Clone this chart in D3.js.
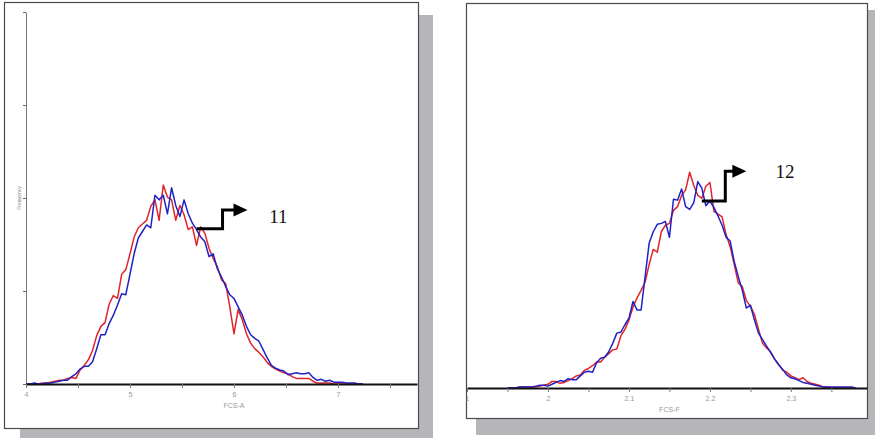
<!DOCTYPE html>
<html>
<head>
<meta charset="utf-8">
<script src="https://cdn.jsdelivr.net/npm/d3@7"></script>
<style>
  body { margin: 0; background: #fff; }
  svg { display: block; }
</style>
</head>
<body>
<div id="chart"></div>
<script>
// left histogram: FCS-A, bins every 0.04 from 4.00
const leftBins = d3.range(82).map(i => +(4 + i * 0.04).toFixed(2));
const leftRed = [0,0,0,0,1,1,2,3,4,4, 6,7,6,15,20,26,36,52,62,66,
  86,95,92,118,123,140,158,168,172,176, 191,198,176,214,201,198,176,192,182,166,
  169,149,169,162,146,135,126,112,108,83, 54,80,69,54,44,38,34,29,23,19,
  16,14,12,11,8,6,6,6,6,3, 1,1,1,1,0,0,0,0,0,0,0,0];
const leftBlue = [0,0,1,0,0,1,1,2,3,4, 4,8,11,16,19,19,24,38,53,53,
  65,74,85,97,96,118,140,157,164,171, 168,203,198,203,183,211,192,180,198,183,
  173,166,158,153,137,140,124,115,105,96, 92,83,74,62,53,49,46,37,28,20,
  17,15,14,10,11,12,11,11,12,7, 4,5,3,4,2,2,2,1,1,1,0,0];
const leftTicks = [4, 4.5, 5, 5.5, 6, 6.5, 7, 7.5];
const leftLabels = {4: "4", 5: "5", 6: "6", 7: "7"};

// right histogram: FCS-F, bins every 0.05 tick units from 0.5
const rightBins = d3.range(87).map(i => +(0.5 + i * 0.05).toFixed(2));
const rightRed = [0,0,0,1,1,1,1,1,2,3, 4,7,7,5,6,8,10,13,14,19,
  21,24,28,28,33,37,41,42,56,63, 73,87,97,105,114,133,149,146,168,175,
  177,191,195,207,213,232,218,207,204,217, 221,190,187,184,165,152,133,113,109,94,
  88,79,63,48,43,39,31,25,19,17, 13,11,9,11,7,5,4,3,1,1, 0,0,0,0,0,0,0];
const rightBlue = [0,0,0,1,1,1,1,2,3,3, 2,4,6,8,7,10,9,9,13,17,
  18,17,27,32,33,39,48,59,60,68, 75,93,84,84,120,156,168,176,177,179,
  162,203,202,214,195,192,199,222,215,196, 201,194,185,175,162,158,136,120,105,86,
  89,73,59,52,45,38,31,25,20,14, 11,10,8,6,5,4,3,2,1,1, 1,1,1,1,1,1,0];
const rightTicks = [0, 0.5, 1, 1.5, 2, 2.5, 3, 3.5, 4, 4.5];
const rightLabels = {0: "1", 1: "2", 2: "2.1", 3: "2.2", 4: "2.3"};

const yTicks = [0, 100, 200, 300, 400];

const svg = d3.select("#chart").append("svg")
  .attr("width", 876)
  .attr("height", 439);

function drawPanel(p) {
  const g = svg.append("g");

  // drop shadow + frame
  g.append("rect")
    .attr("x", p.shadow[0]).attr("y", p.shadow[1])
    .attr("width", p.shadow[2] - p.shadow[0]).attr("height", p.shadow[3] - p.shadow[1])
    .attr("fill", "#b6b6ba");
  g.append("rect")
    .attr("x", p.frame[0] + 0.5).attr("y", p.frame[1] + 0.5)
    .attr("width", p.frame[2] - p.frame[0]).attr("height", p.frame[3] - p.frame[1])
    .attr("fill", "#fff")
    .attr("stroke", "#4a4a4a")
    .attr("stroke-width", 1.2);

  const x = d3.scaleLinear().domain(p.xDomain).range(p.xRange);
  const y = d3.scaleLinear().domain([0, 400]).range(p.yRange);

  if (p.yAxis) {
    const ya = g.append("g")
      .attr("transform", `translate(${p.xRange[0]},0)`)
      .call(d3.axisLeft(y).tickValues(yTicks).tickSize(3).tickSizeOuter(0).tickFormat(""));
    ya.select(".domain").attr("stroke", "#777");
    ya.selectAll(".tick line").attr("stroke", "#666");

    g.append("text")
      .attr("transform", `translate(21,${y(200)}) rotate(-90)`)
      .attr("text-anchor", "middle")
      .style("font", "5px Arial")
      .attr("fill", "#888")
      .text("Frequency");
  }

  const line = d3.line()
    .x((d, i) => x(p.bins[i]))
    .y(d => y(d));

  g.append("path").datum(p.red)
    .attr("d", line)
    .attr("fill", "none")
    .attr("stroke", "#e0242c")
    .attr("stroke-width", 1.5)
    .attr("stroke-linejoin", "round");
  g.append("path").datum(p.blue)
    .attr("d", line)
    .attr("fill", "none")
    .attr("stroke", "#2121c8")
    .attr("stroke-width", 1.5)
    .attr("stroke-linejoin", "round");

  // X axis
  const xa = g.append("g")
    .attr("transform", `translate(0,${p.yRange[0]})`)
    .call(d3.axisBottom(x)
      .tickValues(p.ticks)
      .tickSize(4)
      .tickSizeOuter(0)
      .tickFormat(d => p.labels[d] || ""));
  xa.select(".domain").attr("stroke", "#111").attr("stroke-width", 2);
  xa.selectAll(".tick line").attr("stroke", "#777");
  xa.selectAll(".tick text")
    .attr("y", 8)
    .style("font", "7px Arial")
    .attr("fill", "#999");

  g.append("text")
    .attr("x", x(p.titleAt))
    .attr("y", p.yRange[0] + 24)
    .attr("text-anchor", "middle")
    .style("font", "7px Arial")
    .attr("fill", "#999")
    .text(p.title);

  // marker arrow
  const a = p.arrow;
  g.append("path")
    .attr("d", `M${x(a.x0)},${y(a.y0)}H${x(a.x1)}V${y(a.y1)}H${x(a.x2) - 12}`)
    .attr("fill", "none")
    .attr("stroke", "#000")
    .attr("stroke-width", 3);
  const tx = x(a.x2), ty = y(a.y1);
  g.append("path")
    .attr("d", `M${tx},${ty}L${tx - 14},${ty - 6.5}L${tx - 14},${ty + 6.5}Z`)
    .attr("fill", "#000");
  g.append("text")
    .attr("x", x(a.tx))
    .attr("y", y(a.ty))
    .style("font", "19px 'Liberation Serif', 'Times New Roman', serif")
    .attr("fill", "#111")
    .text(a.label);
}

drawPanel({
  frame: [4, 2, 418, 428],
  shadow: [20, 15, 433, 438],
  xDomain: [4, 7.76], xRange: [26, 417],
  yRange: [384, 12],
  bins: leftBins, red: leftRed, blue: leftBlue,
  ticks: leftTicks, labels: leftLabels,
  title: "FCS-A", titleAt: 6,
  yAxis: true,
  arrow: {x0: 5.64, y0: 167, x1: 5.89, y1: 187, x2: 6.13, tx: 6.34, ty: 173, label: "11"}
});

drawPanel({
  frame: [466, 3, 867, 418],
  shadow: [476, 10, 875, 435],
  xDomain: [0, 4.94], xRange: [467, 867],
  yRange: [388, 16],
  bins: rightBins, red: rightRed, blue: rightBlue,
  ticks: rightTicks, labels: rightLabels,
  title: "FCS-F", titleAt: 2.5,
  yAxis: false,
  arrow: {x0: 2.90, y0: 201, x1: 3.19, y1: 233, x2: 3.45, tx: 3.81, ty: 226, label: "12"}
});
</script>
</body>
</html>
